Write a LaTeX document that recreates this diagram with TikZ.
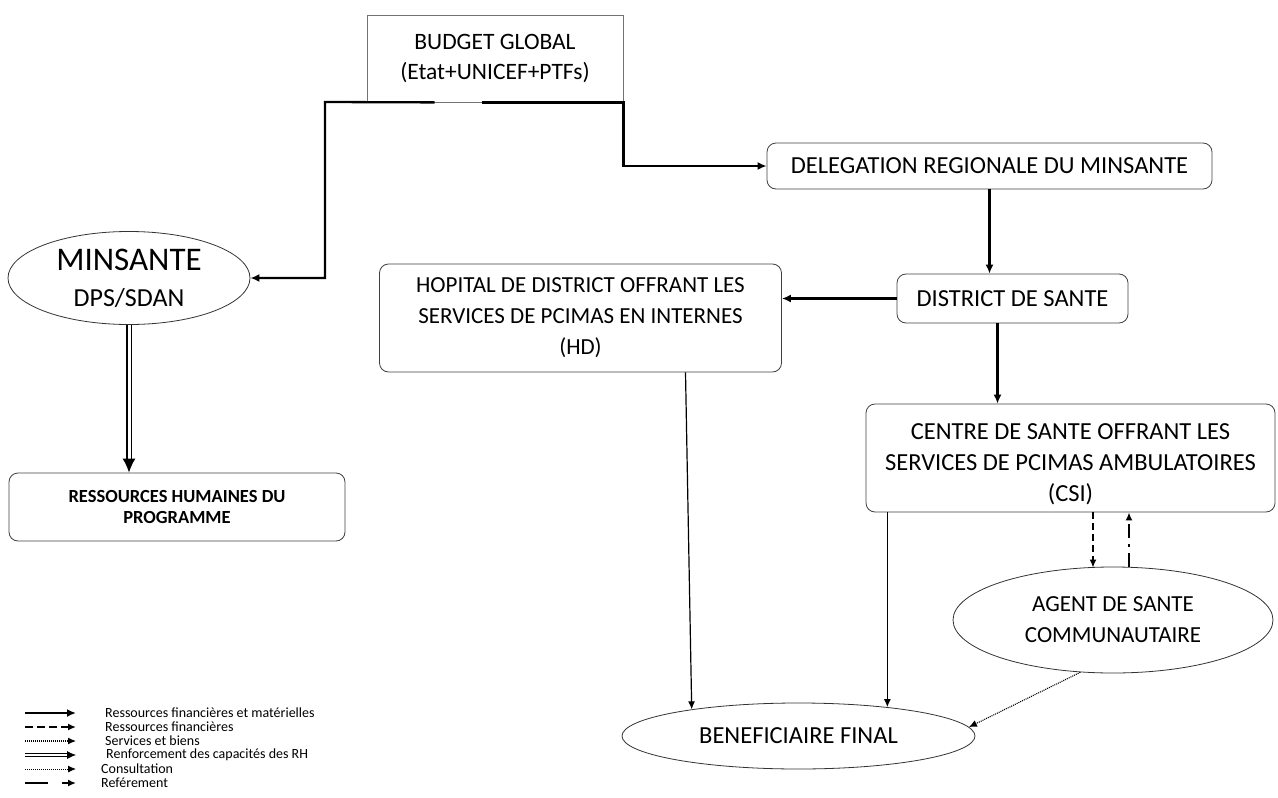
\documentclass[tikz,border=0pt]{standalone}
\usepackage{fontspec}
\setmainfont{Carlito}
\usetikzlibrary{arrows.meta,shapes.geometric,calc}
\begin{document}
\begin{tikzpicture}[x=1pt,y=1pt,
  box/.style={draw=black!75,line width=0.8pt,rounded corners=9pt,align=center,inner sep=0pt},
  oval/.style={draw=black!80,line width=0.8pt,ellipse,align=center,inner sep=0pt},
  txt/.style={font=\fontsize{23}{31}\selectfont},
  bigtxt/.style={font=\fontsize{24.5}{31}\selectfont},
  fin/.style={line width=2.3pt,-{Latex[length=9pt,width=8pt]}},
  thinarr/.style={line width=1.2pt,-{Latex[length=8pt,width=7pt]}},
  finonly/.style={line width=2.3pt,dash pattern=on 7pt off 4pt,-{Latex[length=8pt,width=7pt]}},
  servarr/.style={line width=1.1pt,dash pattern=on 1pt off 1pt,-{Latex[length=8pt,width=7pt]}},
  rharr/.style={line width=1.3pt,double,double distance=3pt,-{Latex[length=14pt,width=13pt]}},
  refarr/.style={line width=2.3pt,dash pattern=on 14pt off 6pt on 3pt off 6pt,-{Latex[length=8pt,width=7pt]}},
  legtxt/.style={anchor=west,font=\fontsize{14}{15}\selectfont,inner sep=0pt}
]
\useasboundingbox (0,0) rectangle (1278,-798);

% nodes
\node[draw=black!55,line width=0.8pt,rectangle,minimum width=256pt,minimum height=87pt,align=center,inner sep=0pt,
      font=\fontsize{23.5}{30}\selectfont] (budget) at (495,-58.5) {BUDGET GLOBAL\\(Etat+UNICEF+PTFs)};
\node[oval,minimum width=242pt,minimum height=93pt,font=\fontsize{26}{36}\selectfont] (minsante) at (129,-278)
  {{\fontsize{33}{36}\selectfont MINSANTE}\\DPS/SDAN};
\node[box,minimum width=336pt,minimum height=68pt,font=\bfseries\fontsize{18.5}{21}\selectfont] (rh) at (177,-507)
  {RESSOURCES HUMAINES DU\\PROGRAMME};
\node[box,bigtxt,minimum width=445pt,minimum height=46pt] (deleg) at (989.5,-166) {DELEGATION REGIONALE DU MINSANTE};
\node[box,bigtxt,minimum width=231pt,minimum height=49pt] (district) at (1012.5,-298.5) {DISTRICT DE SANTE};
\node[box,txt,minimum width=402pt,minimum height=108pt] (hd) at (580.5,-318)
  {HOPITAL DE DISTRICT OFFRANT LES\\SERVICES DE PCIMAS EN INTERNES\\(HD)};
\node[box,minimum width=409pt,minimum height=108pt,
      label={[bigtxt,align=center,yshift=-6pt]center:{CENTRE DE SANTE OFFRANT LES\\SERVICES DE PCIMAS AMBULATOIRES\\(CSI)}}] (csi) at (1070.5,-458) {};
\node[oval,txt,minimum width=320pt,minimum height=106pt] (asc) at (1113,-620)
  {AGENT DE SANTE\\COMMUNAUTAIRE};
\node[oval,bigtxt,minimum width=353pt,minimum height=66pt] (benef) at (798.5,-736) {BENEFICIAIRE FINAL};

% connectors
\coordinate (bl) at ($(budget.south west)+(68,0)$);
\coordinate (br) at ($(budget.south west)+(115,0)$);
\coordinate (kl) at (325,-102);
\draw[fin] (bl) -- (kl) |- (minsante.east);
\draw[fin] (br) -- (budget.south east) |- (deleg.west);
\draw[fin] (deleg.south) -- (deleg.south |- district.north);
\draw[fin] (district.west) -- (district.west -| hd.east);
\coordinate (ds) at ($(district.south)+(-15,0)$);
\draw[fin] (ds) -- (ds |- csi.north);
\draw[rharr] (minsante.south) -- (minsante.south |- rh.north);

\coordinate (hs) at ($(hd.south)+(105,0)$);
\draw[thinarr] (hs) -- (benef.166);
\draw[thinarr] (csi.south -| benef.18) -- (benef.18);

\coordinate (cd) at ($(csi.south)+(22.5,0)$);
\draw[finonly] (cd) -- ($(cd |- asc.north)+(0,-1)$);
\coordinate (au) at ($(asc.north)+(16,0)$);
\draw[refarr] (au) -- (au |- csi.south);
\draw[servarr] (asc.238) -- (benef.3);

% legend
\coordinate (l1a) at (25,-713); \coordinate (l1b) at (76,-713);
\coordinate (l2a) at (25,-727); \coordinate (l2b) at (76,-727);
\coordinate (l3a) at (25,-741); \coordinate (l3b) at (76,-741);
\coordinate (l4a) at (25,-755); \coordinate (l4b) at (76,-755);
\coordinate (l5a) at (25,-769); \coordinate (l5b) at (76,-769);
\coordinate (l6a) at (25,-783); \coordinate (l6b) at (76,-783);
\draw[fin] (l1a) -- (l1b);
\draw[line width=2.3pt,dash pattern=on 8pt off 4pt,-{Latex[length=8pt,width=7pt]}] (l2a) -- (l2b);
\draw[servarr] (l3a) -- (l3b);
\draw[line width=0.8pt,double,double distance=2pt,-{Latex[length=9pt,width=8pt]}] (l4a) -- (l4b);
\draw[line width=0.9pt,dash pattern=on 1pt off 1pt,-{Latex[length=8pt,width=7pt]}] (l5a) -- (l5b);
\draw[line width=2.3pt,dash pattern=on 23pt off 14pt,-{Latex[length=8pt,width=7pt]}] (l6a) -- (l6b);
\node[legtxt] (t1) at (105,-713) {Ressources financières et matérielles};
\node[legtxt] (t2) at (105,-727) {Ressources financières};
\node[legtxt] (t3) at (105,-741) {Services et biens};
\node[legtxt] (t4) at (106,-755) {Renforcement des capacités des RH};
\node[legtxt] (t5) at (101,-769) {Consultation};
\node[legtxt] (t6) at (101,-783) {Reférement};
\end{tikzpicture}
\end{document}
